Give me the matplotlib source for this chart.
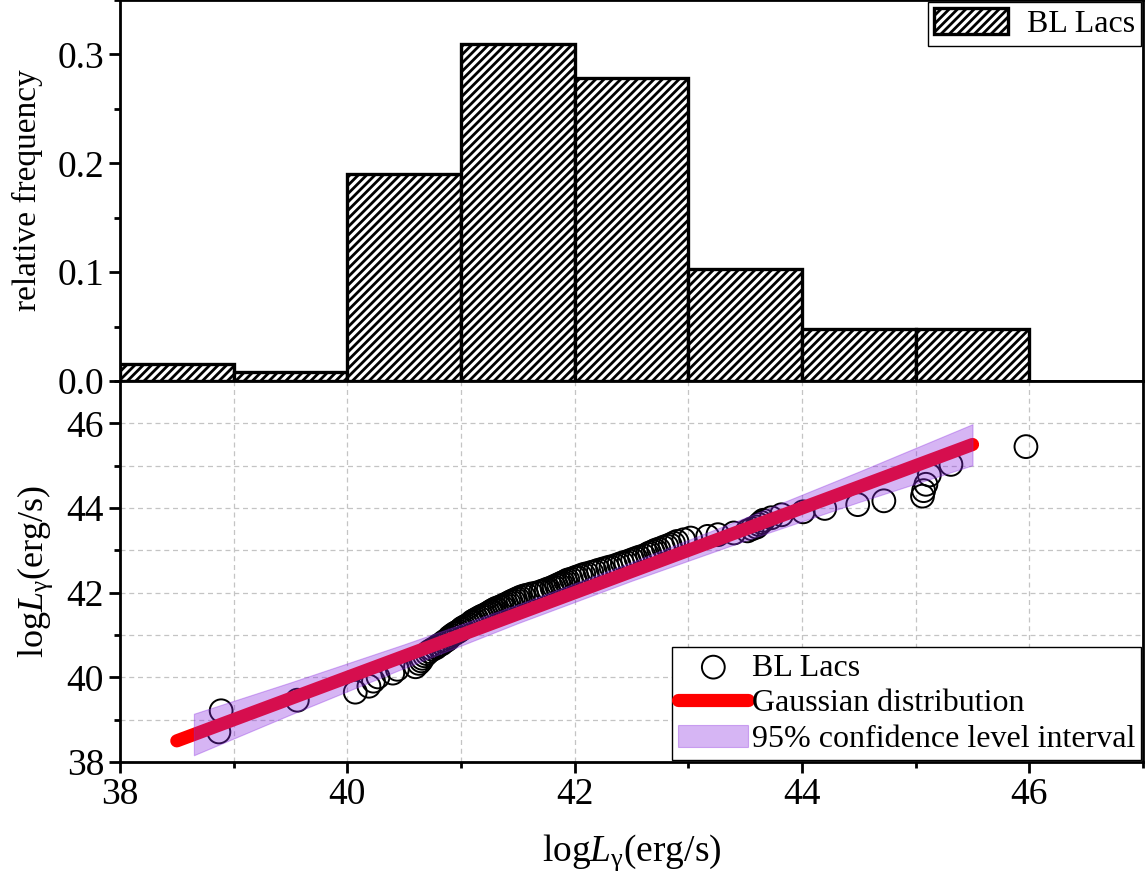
import numpy as np
import matplotlib
matplotlib.use('Agg')
import matplotlib.pyplot as plt
from matplotlib.ticker import MultipleLocator

plt.rcParams['font.family'] = 'Liberation Serif'
plt.rcParams['mathtext.fontset'] = 'custom'
plt.rcParams['mathtext.rm'] = 'Liberation Serif'
plt.rcParams['mathtext.it'] = 'Liberation Serif:italic'
plt.rcParams['hatch.linewidth'] = 2.0

# histogram of logL (relative frequency per unit bin)
bin_left = [38, 39, 40, 41, 42, 43, 44, 45]
rel_freq = [0.016, 0.008, 0.190, 0.310, 0.278, 0.103, 0.048, 0.048]

# Q-Q points: observed logL vs expected quantile
obs_x = [38.87, 38.89, 39.56, 40.07, 40.19, 40.23, 40.27, 40.40, 40.44, 40.60,
         40.63, 40.65, 40.66, 40.68, 40.70, 40.72, 40.75, 40.78, 40.80, 40.83,
         40.85, 40.87, 40.89, 40.90, 40.92, 40.94, 40.96, 40.98, 41.00, 41.01,
         41.03, 41.05, 41.07, 41.09, 41.10, 41.12, 41.14, 41.16, 41.18, 41.20,
         41.22, 41.24, 41.26, 41.27, 41.29, 41.31, 41.34, 41.36, 41.38, 41.40,
         41.42, 41.44, 41.46, 41.48, 41.50, 41.52, 41.55, 41.58, 41.62, 41.66,
         41.70, 41.72, 41.75, 41.77, 41.80, 41.82, 41.84, 41.86, 41.88, 41.90,
         41.92, 41.94, 41.97, 42.00, 42.02, 42.05, 42.08, 42.11, 42.15, 42.18,
         42.21, 42.25, 42.29, 42.32, 42.36, 42.39, 42.42, 42.45, 42.48, 42.51,
         42.54, 42.57, 42.61, 42.64, 42.66, 42.69, 42.71, 42.74, 42.78, 42.81,
         42.84, 42.87, 42.90, 42.96, 43.02, 43.17, 43.26, 43.40, 43.52, 43.56,
         43.60, 43.62, 43.64, 43.66, 43.73, 43.82, 44.01, 44.20, 44.49, 44.72,
         45.06, 45.07, 45.09, 45.12, 45.31, 45.97]
exp_y = [38.71, 39.21, 39.46, 39.65, 39.79, 39.91, 40.01, 40.10, 40.19, 40.25,
         40.33, 40.39, 40.45, 40.51, 40.56, 40.61, 40.66, 40.70, 40.75, 40.79,
         40.84, 40.87, 40.91, 40.95, 40.99, 41.03, 41.06, 41.09, 41.13, 41.16,
         41.19, 41.22, 41.25, 41.29, 41.32, 41.35, 41.38, 41.41, 41.44, 41.46,
         41.49, 41.52, 41.55, 41.57, 41.60, 41.63, 41.66, 41.68, 41.71, 41.73,
         41.76, 41.79, 41.81, 41.84, 41.86, 41.89, 41.92, 41.94, 41.97, 41.99,
         42.02, 42.04, 42.07, 42.09, 42.12, 42.14, 42.17, 42.19, 42.22, 42.24,
         42.27, 42.30, 42.32, 42.35, 42.37, 42.40, 42.43, 42.45, 42.48, 42.50,
         42.53, 42.56, 42.59, 42.61, 42.64, 42.67, 42.70, 42.72, 42.75, 42.78,
         42.81, 42.84, 42.87, 42.91, 42.94, 42.97, 43.00, 43.03, 43.07, 43.10,
         43.13, 43.17, 43.21, 43.25, 43.29, 43.33, 43.37, 43.41, 43.46, 43.51,
         43.55, 43.61, 43.66, 43.71, 43.77, 43.84, 43.91, 43.99, 44.08, 44.17,
         44.28, 44.41, 44.56, 44.78, 45.03, 45.45]

# reference line and confidence band
line_x = [38.5, 45.5]
line_y = [38.5, 45.5]
band_x = [38.65, 39.5, 40.5, 41.5, 42.5, 43.5, 44.5, 45.5]
band_lo = [38.16, 39.12, 40.22, 41.28, 42.28, 43.23, 44.14, 45.01]
band_hi = [39.14, 39.88, 40.78, 41.72, 42.72, 43.77, 44.86, 45.98]

fig = plt.figure(figsize=(11.46, 8.84), dpi=100)
ax1 = fig.add_axes([0.1047, 0.569, 0.8927, 0.431])
ax2 = fig.add_axes([0.1047, 0.138, 0.8927, 0.431])

# top: histogram
ax1.bar(bin_left, rel_freq, width=1, align='edge', facecolor='white',
        edgecolor='black', hatch='////', linewidth=2.4, label='BL Lacs')
ax1.set_xlim(38, 47)
ax1.set_ylim(0, 0.35)
ax1.yaxis.set_minor_locator(MultipleLocator(0.05))
ax1.set_yticks([0.0, 0.1, 0.2, 0.3])
ax1.set_yticklabels(['0.0', '0.1', '0.2', '0.3'])
ax1.tick_params(axis='x', bottom=False, labelbottom=False)
ax1.set_ylabel('relative frequency', fontsize=24, labelpad=10)
leg1 = ax1.legend(loc='upper right', fontsize=23, frameon=True, fancybox=False,
                  edgecolor='black', framealpha=1, borderaxespad=0.05,
                  handlelength=2.3, handleheight=0.9, handletextpad=0.6,
                  borderpad=0.2)
leg1.get_frame().set_linewidth(1.0)

# bottom: Q-Q plot
ax2.scatter(obs_x, exp_y, s=270, facecolors='none', edgecolors='black',
            linewidths=1.4, zorder=3, label='BL Lacs')
ax2.plot(line_x, line_y, color='red', linewidth=9.5, solid_capstyle='round',
         zorder=4, label='Gaussian distribution')
ax2.fill_between(band_x, band_lo, band_hi, facecolor='blueviolet', alpha=0.35,
                 edgecolor='blueviolet', linewidth=0.8, zorder=5,
                 label='95% confidence level interval')
ax2.set_xlim(38, 47)
ax2.set_ylim(38, 47)
ax2.xaxis.set_major_locator(MultipleLocator(2))
ax2.xaxis.set_minor_locator(MultipleLocator(1))
ax2.yaxis.set_minor_locator(MultipleLocator(1))
ax2.set_yticks([38, 40, 42, 44, 46])
ax2.grid(True, which='both', color='#c4c4c4', linestyle=(0, (4, 3)),
         linewidth=0.9, zorder=0)
ax2.set_axisbelow(True)
ax2.set_xlabel(r'log$L_{\mathrm{γ}}$(erg/s)', fontsize=27, labelpad=14)
ax2.set_ylabel(r'log$L_{\mathrm{γ}}$(erg/s)', fontsize=26, labelpad=8)
leg2 = ax2.legend(loc='lower right', fontsize=23, frameon=True, fancybox=False,
                  edgecolor='black', framealpha=1, borderaxespad=0.05,
                  handlelength=2.2, handletextpad=0.1, borderpad=0.2,
                  labelspacing=0.2)
leg2.get_frame().set_linewidth(1.0)

for ax in (ax1, ax2):
    for sp in ax.spines.values():
        sp.set_linewidth(2.0)
    ax.tick_params(which='major', direction='out', length=8, width=2.0,
                   labelsize=27)
    ax.tick_params(which='minor', direction='out', length=4.5, width=2.0)
ax1.tick_params(axis='x', which='both', bottom=False)

fig.savefig('out.png', dpi=100)
